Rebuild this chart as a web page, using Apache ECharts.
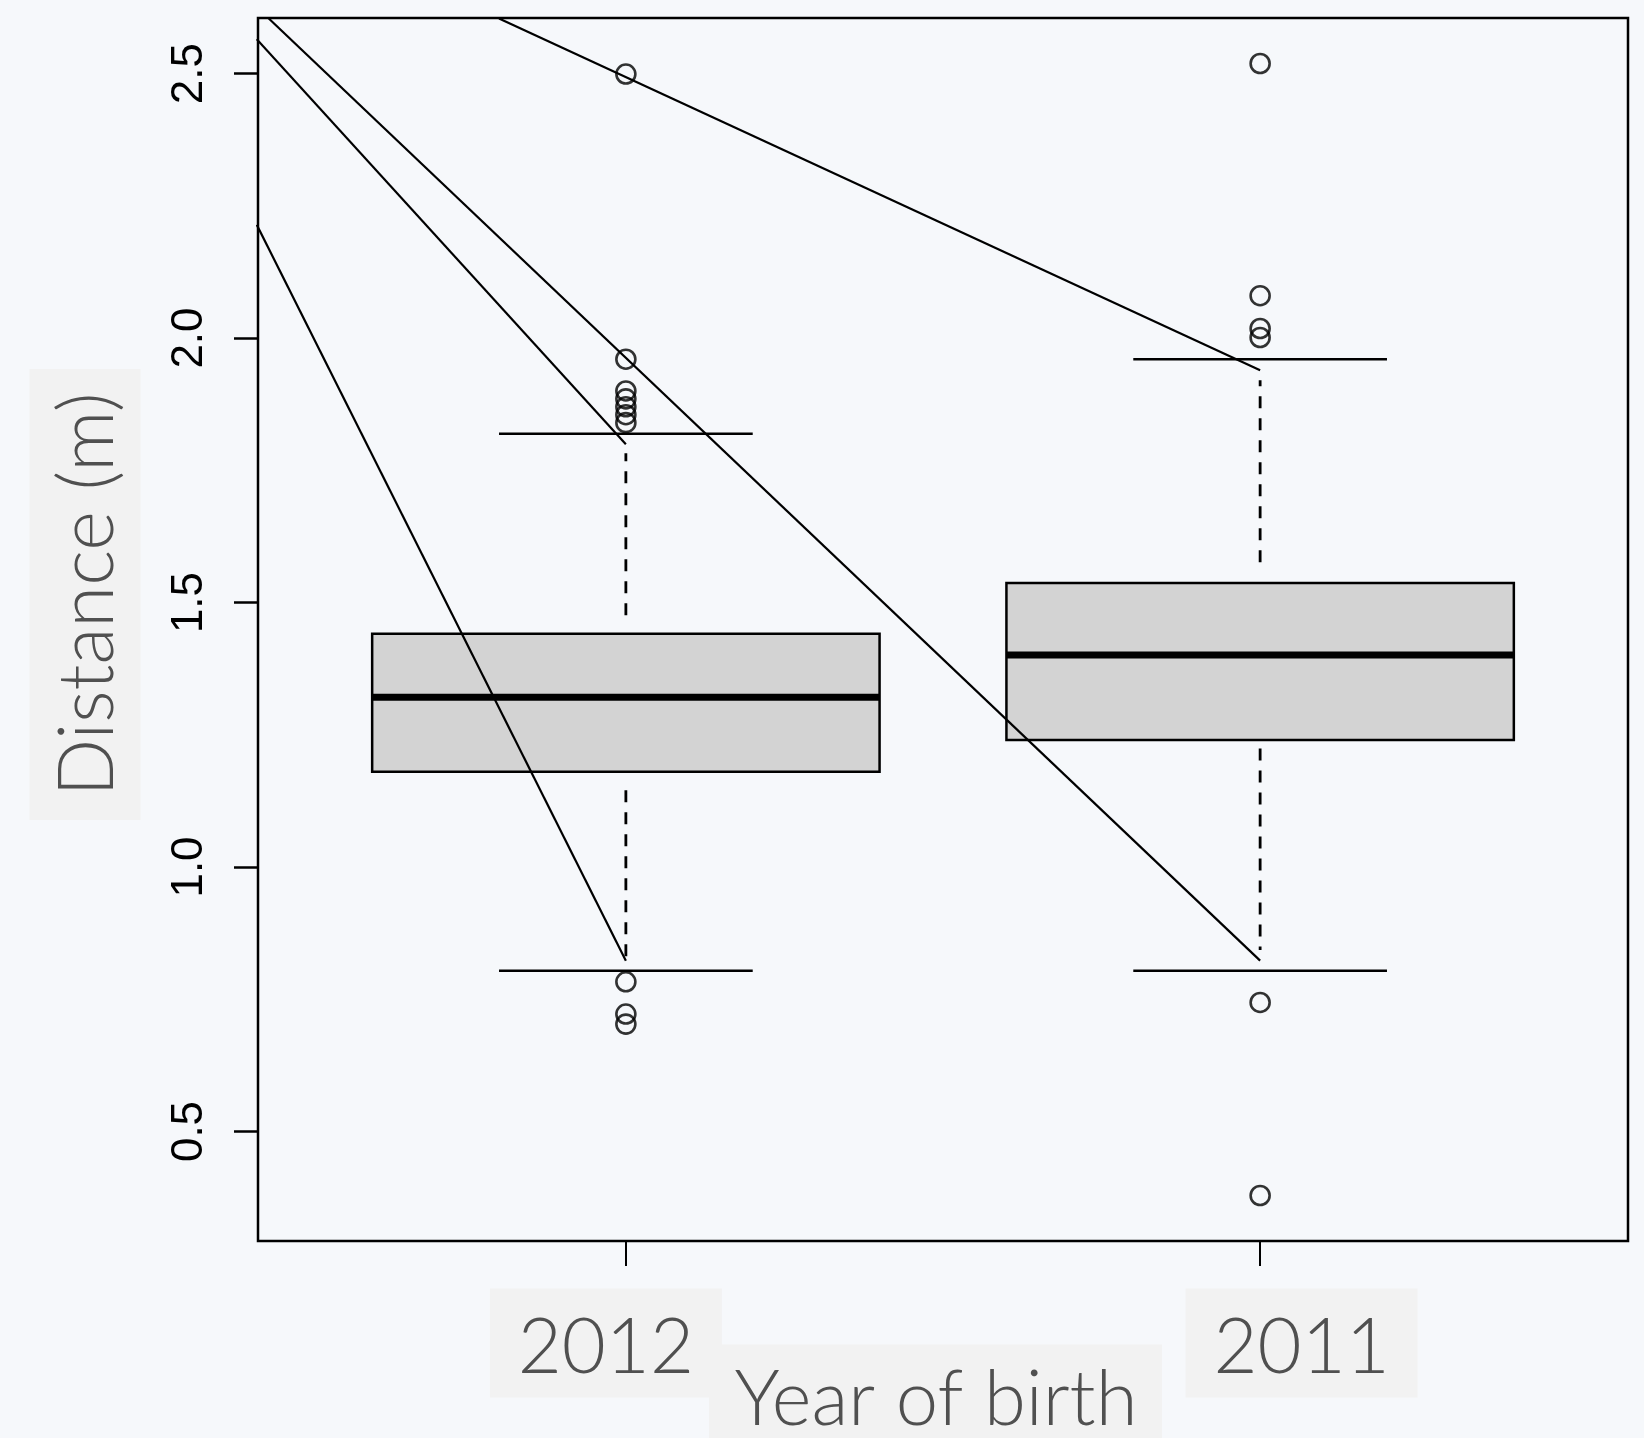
<!DOCTYPE html>
<html>
<head>
<meta charset="utf-8">
<title>Distance by year of birth</title>
<script src="https://cdn.jsdelivr.net/npm/echarts@6/dist/echarts.min.js"></script>
<style>
    html, body { margin: 0; padding: 0; background: #f6f8fb; }
    #main { width: 1644px; height: 1438px; }
</style>
</head>
<body>
<div id="main"></div>
<script>
// groups sit at x = 1 and x = 2
var categories = ['2012', '2011'];
var boxLow = [1.180, 1.240];
var boxMedian = [1.321, 1.401];
var boxHigh = [1.441, 1.537];
var capHigh = [1.819, 1.960];
var capLow = [0.804, 0.804];
var upperWhiskerFrom = [1.476, 1.576];
var upperWhiskerTo = [1.782, 1.920];
var lowerWhiskerFrom = [1.145, 1.224];
var lowerWhiskerTo = [0.828, 0.843];

// outlying points
var outliers2012 = [2.499, 1.960, 1.900, 1.885, 1.870, 1.855, 1.840, 0.783, 0.722, 0.703];
var outliers2011 = [2.519, 2.080, 2.018, 2.001, 0.744, 0.379];

// straight segments across the plot
var segStart = [[0.418, 2.214], [0.418, 2.565], [0.437, 2.604], [0.800, 2.604]];
var segEnd = [[1, 0.823], [1, 1.799], [2, 0.823], [2, 1.939]];

var yTicks = [0.5, 1.0, 1.5, 2.0, 2.5];
var xTicks = [1, 2];

var boxData = categories.map(function (c, i) {
    return [i + 1, boxLow[i], boxMedian[i], boxHigh[i], capHigh[i], capLow[i],
        upperWhiskerFrom[i], upperWhiskerTo[i], lowerWhiskerFrom[i], lowerWhiskerTo[i]];
});

var pointData = outliers2012.map(function (v) { return [1, v]; })
    .concat(outliers2011.map(function (v) { return [2, v]; }));

var grey = '#505050';
var boxBg = '#f2f2f2';
var titleFont = 'Lato';

function renderBox(params, api) {
    var x = api.value(0);
    var p = function (dx, v) { return api.coord([x + dx, v]); };
    var seg = function (a, b, w, dash) {
        return {
            type: 'line',
            shape: { x1: a[0], y1: a[1], x2: b[0], y2: b[1] },
            style: { stroke: '#000', lineWidth: w, lineDash: dash || null }
        };
    };
    var tl = p(-0.4, api.value(3));
    var br = p(0.4, api.value(1));
    return {
        type: 'group',
        children: [
            seg(p(0, api.value(6)), p(0, api.value(7)), 2.8, [12, 10]),
            seg(p(0, api.value(8)), p(0, api.value(9)), 2.8, [12, 10]),
            {
                type: 'rect',
                shape: { x: tl[0], y: tl[1], width: br[0] - tl[0], height: br[1] - tl[1] },
                style: { fill: '#d3d3d3', stroke: '#000', lineWidth: 2.5 }
            },
            seg(p(-0.4, api.value(2)), p(0.4, api.value(2)), 7),
            seg(p(-0.2, api.value(4)), p(0.2, api.value(4)), 2.5),
            seg(p(-0.2, api.value(5)), p(0.2, api.value(5)), 2.5)
        ]
    };
}

var series = [{
    type: 'custom',
    renderItem: renderBox,
    data: boxData,
    encode: { x: 0, y: [1, 2, 3, 4, 5] },
    z: 2,
    silent: true
}];

segStart.forEach(function (s, i) {
    series.push({
        type: 'line',
        data: [s, segEnd[i]],
        symbol: 'none',
        lineStyle: { color: '#000', width: 2.2 },
        clip: true,
        z: 3,
        silent: true
    });
});

series.push({
    type: 'scatter',
    data: pointData,
    symbol: 'circle',
    symbolSize: 19,
    itemStyle: { color: 'rgba(0,0,0,0)', borderColor: '#000', borderWidth: 2.6 },
    z: 4,
    silent: true
});

var chart = echarts.init(document.getElementById('main'));
var option = {
    backgroundColor: '#f6f8fb',
    animation: false,
    grid: {
        left: 258, right: 16, top: 18, bottom: 197,
        show: true, borderColor: '#000', borderWidth: 2.5,
        backgroundColor: 'transparent',
        containLabel: false,
        outerBoundsMode: 'none'
    },
    xAxis: {
        type: 'value',
        min: 0.42,
        max: 2.58,
        axisLine: { show: false },
        splitLine: { show: false },
        axisTick: { show: true, customValues: xTicks, length: 25, lineStyle: { color: '#000', width: 2 } },
        axisLabel: {
            customValues: xTicks,
            margin: 64,
            formatter: function (v) {
                var i = Math.round(v) - 1;
                // the two labels are nudged off their ticks like in the source figure
                return i === 0 ? '{t|' + categories[0] + '}{r| }' : '{l| }{t|' + categories[1] + '}';
            },
            rich: {
                t: {
                    fontFamily: titleFont, fontWeight: 300, fontSize: 76, lineHeight: 76,
                    color: grey, backgroundColor: boxBg, width: 168, align: 'center',
                    padding: [22, 32, 11, 32]
                },
                r: { width: 40, align: 'center', fontSize: 10 },
                l: { width: 83, align: 'center', fontSize: 10 }
            }
        },
        name: '{t|Year of birth}{r| }',
        nameLocation: 'middle',
        nameGap: 125,
        nameMoveOverlap: false,
        nameTextStyle: {
            rich: {
                t: {
                    fontFamily: titleFont, fontWeight: 300, fontSize: 76, lineHeight: 76,
                    color: grey, backgroundColor: boxBg, width: 400, align: 'center',
                    padding: [18, 26, 25, 27]
                },
                r: { width: 15, align: 'center', fontSize: 10 }
            }
        }
    },
    yAxis: {
        type: 'value',
        min: 0.293,
        max: 2.605,
        axisLine: { show: false },
        splitLine: { show: false },
        axisTick: { show: true, customValues: yTicks, length: 24, lineStyle: { color: '#000', width: 2.5 } },
        axisLabel: {
            customValues: yTicks,
            rotate: 90,
            margin: 46,
            fontFamily: 'Liberation Sans',
            fontSize: 44,
            color: '#000',
            formatter: function (v) { return v.toFixed(1); }
        },
        name: '{l| }{t|Distance (m)}',
        nameLocation: 'middle',
        nameGap: 135,
        nameRotate: 90,
        nameMoveOverlap: false,
        nameTextStyle: {
            rich: {
                t: {
                    fontFamily: titleFont, fontWeight: 300, fontSize: 76, lineHeight: 76,
                    color: grey, backgroundColor: boxBg, width: 395, align: 'center',
                    padding: [21, 28, 14, 28]
                },
                l: { width: 70, align: 'center', fontSize: 10 }
            }
        }
    },
    series: series
};
chart.setOption(option);
</script>
</body>
</html>
